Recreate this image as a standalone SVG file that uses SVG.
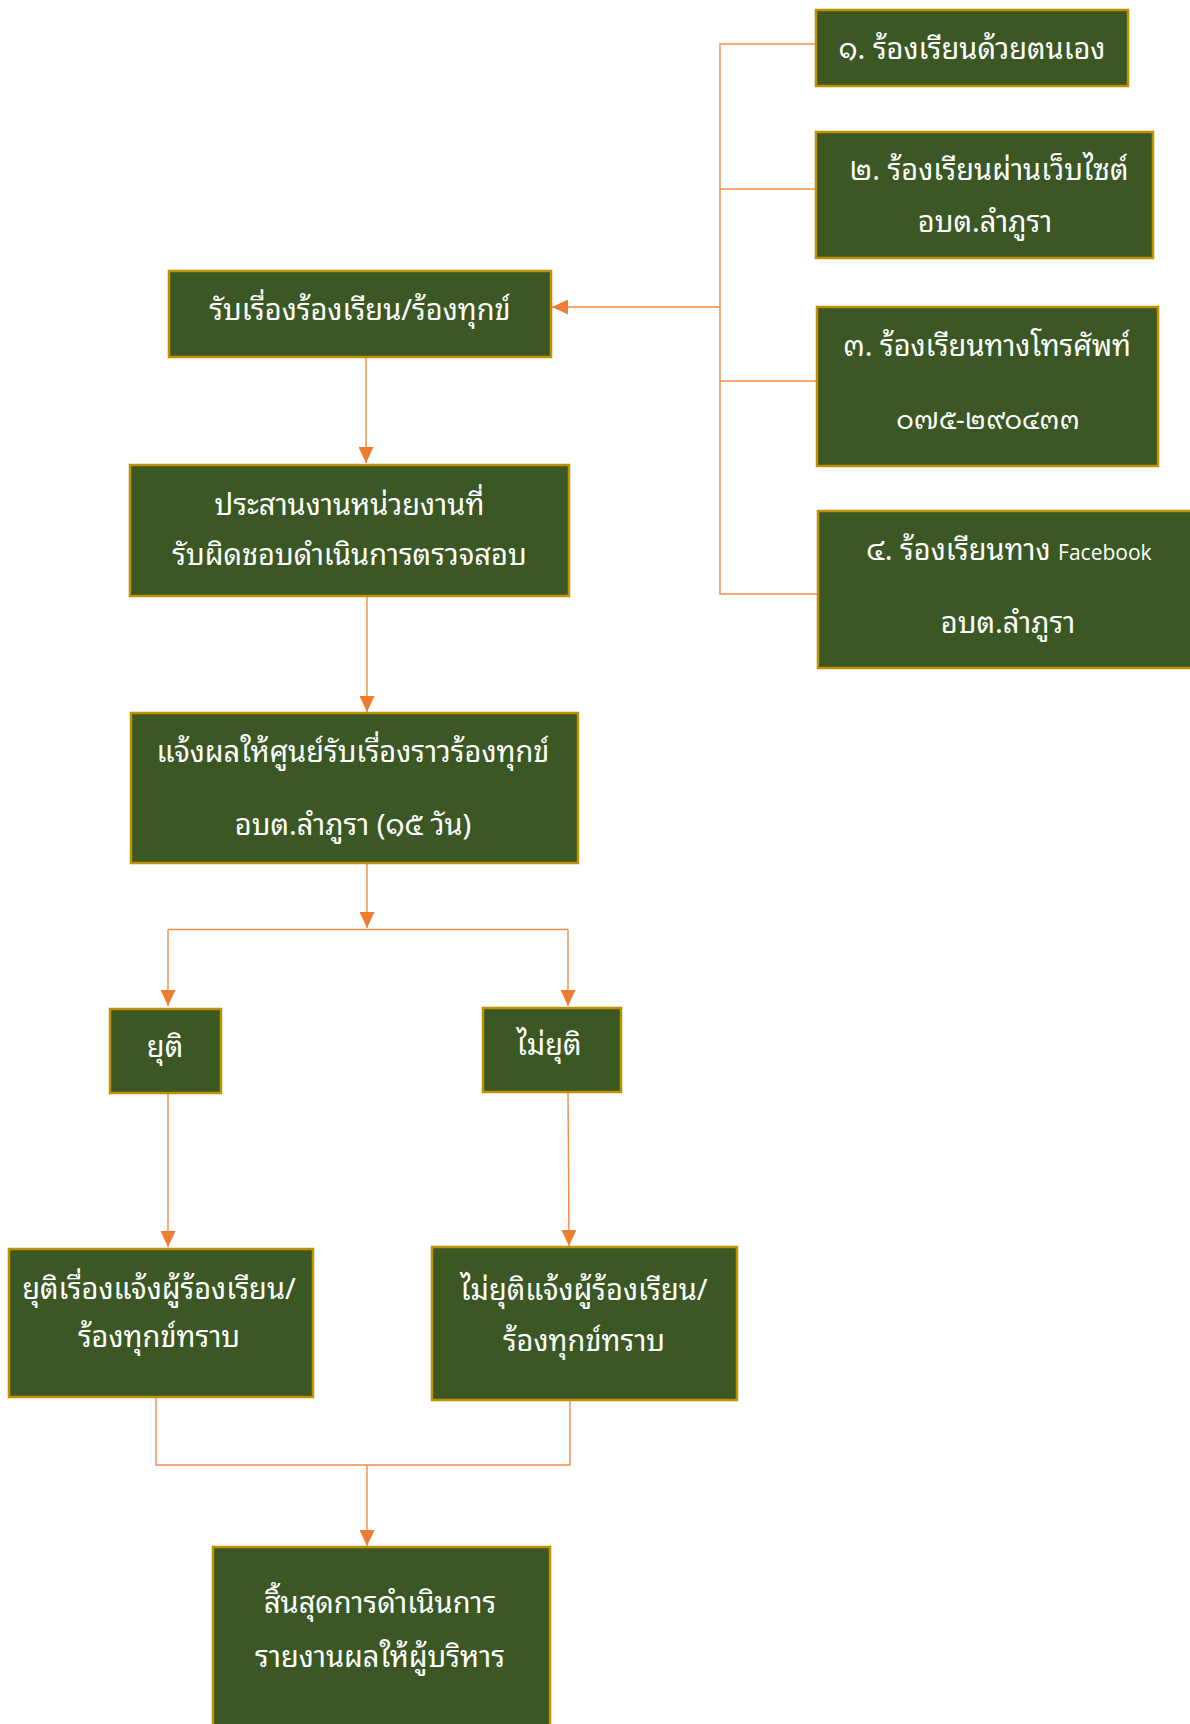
<svg xmlns="http://www.w3.org/2000/svg" width="1190" height="1724" viewBox="0 0 1190 1724">
<defs>
<style>
.box{fill:#3A5724;stroke:#BF9000;stroke-width:2.5}
.t{fill:#FFFFFF;font-family:"Noto Sans Thai Looped","Noto Sans Thai","Noto Sans","Liberation Sans",sans-serif;font-size:29px;text-anchor:middle}
.lat{font-family:"Open Sans","Noto Sans",sans-serif;font-size:21px}
.c{fill:none;stroke:#F08C4A;stroke-width:1.4}
</style>
<marker id="ah" viewBox="0 0 16 15" refX="16" refY="7.5" markerWidth="16" markerHeight="15" markerUnits="userSpaceOnUse" orient="auto">
<path d="M0,0 L16,7.5 L0,15 Z" fill="#ED7D31"/>
</marker>
</defs>
<rect width="1190" height="1724" fill="#FFFFFF"/>
<g id="connectors">
<path class="c" d="M816 44 H720 V594 H818"/>
<path class="c" d="M816 189 H720"/>
<path class="c" d="M817 381 H720"/>
<path class="c" d="M720 307 H552" marker-end="url(#ah)"/>
<path class="c" d="M366 357 V463" marker-end="url(#ah)"/>
<path class="c" d="M367 596 V712" marker-end="url(#ah)"/>
<path class="c" d="M367 863 V928" marker-end="url(#ah)"/>
<path class="c" d="M168 929.5 H568"/>
<path class="c" d="M168 929.5 V1006" marker-end="url(#ah)"/>
<path class="c" d="M568 929.5 V1006" marker-end="url(#ah)"/>
<path class="c" d="M168 1093 V1247" marker-end="url(#ah)"/>
<path class="c" d="M568 1092 L569 1246" marker-end="url(#ah)"/>
<path class="c" d="M156 1398 V1465 H570 V1401"/>
<path class="c" d="M367 1465 V1546" marker-end="url(#ah)"/>
</g>
<g id="n1"><rect class="box" x="816" y="10" width="312" height="76"/><text class="t" x="972" y="59">๑. ร้องเรียนด้วยตนเอง</text></g>
<g id="n2"><rect class="box" x="816" y="132" width="337" height="126"/><text class="t" x="989" y="180">๒. ร้องเรียนผ่านเว็บไซต์</text><text class="t" x="985" y="232">อบต.ลำภูรา</text></g>
<g id="n3"><rect class="box" x="817" y="307" width="341" height="159"/><text class="t" x="987" y="356">๓. ร้องเรียนทางโทรศัพท์</text><text class="t" x="988" y="429" style="font-size:27px">๐๗๕-๒๙๐๔๓๓</text></g>
<g id="n4"><rect class="box" x="818" y="511" width="380" height="157"/><text class="t" x="1009" y="560">๔. ร้องเรียนทาง <tspan class="lat">Facebook</tspan></text><text class="t" x="1008" y="633">อบต.ลำภูรา</text></g>
<g id="n5"><rect class="box" x="169" y="271" width="382" height="86"/><text class="t" x="360" y="320">รับเรื่องร้องเรียน/ร้องทุกข์</text></g>
<g id="n6"><rect class="box" x="130" y="465" width="439" height="131"/><text class="t" x="349.5" y="515">ประสานงานหน่วยงานที่</text><text class="t" x="349.5" y="565">รับผิดชอบดำเนินการตรวจสอบ</text></g>
<g id="n7"><rect class="box" x="131" y="713" width="447" height="150"/><text class="t" x="353" y="762">แจ้งผลให้ศูนย์รับเรื่องราวร้องทุกข์</text><text class="t" x="353" y="835">อบต.ลำภูรา (๑๕ วัน)</text></g>
<g id="n8"><rect class="box" x="110" y="1009" width="111" height="84"/><text class="t" x="165" y="1057">ยุติ</text></g>
<g id="n9"><rect class="box" x="483" y="1008" width="138" height="84"/><text class="t" x="549" y="1055">ไม่ยุติ</text></g>
<g id="n10"><rect class="box" x="9" y="1249" width="304" height="148"/><text class="t" x="159" y="1299">ยุติเรื่องแจ้งผู้ร้องเรียน/</text><text class="t" x="159" y="1347">ร้องทุกข์ทราบ</text></g>
<g id="n11"><rect class="box" x="432" y="1247" width="305" height="153"/><text class="t" x="584" y="1300">ไม่ยุติแจ้งผู้ร้องเรียน/</text><text class="t" x="584" y="1351">ร้องทุกข์ทราบ</text></g>
<g id="n12"><rect class="box" x="213" y="1547" width="337" height="190"/><text class="t" x="380" y="1613">สิ้นสุดการดำเนินการ</text><text class="t" x="380" y="1667">รายงานผลให้ผู้บริหาร</text></g>
</svg>
